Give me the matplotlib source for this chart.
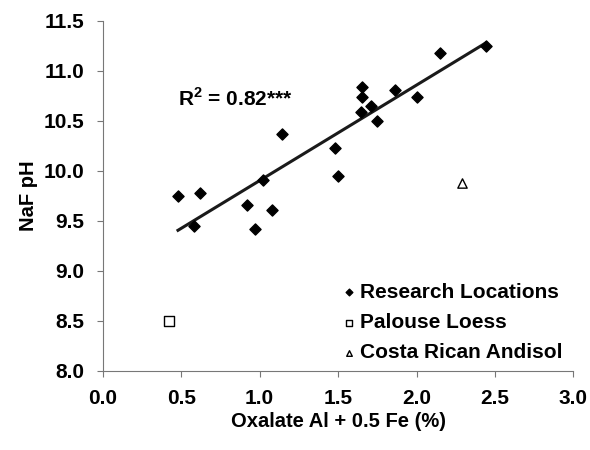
import matplotlib.pyplot as plt
import numpy as np

plt.rcParams['font.family'] = ['Liberation Sans', 'DejaVu Sans']
plt.rcParams['font.weight'] = 'bold'
plt.rcParams['mathtext.fontset'] = 'custom'
plt.rcParams['mathtext.rm'] = 'Liberation Sans:bold'
plt.rcParams['mathtext.bf'] = 'Liberation Sans:bold'

# Datos
research_x = [0.48, 0.58, 0.62, 0.92, 0.97, 1.02, 1.08, 1.14, 1.48, 1.50,
              1.65, 1.655, 1.645, 1.71, 1.75, 1.86, 2.00, 2.15, 2.44]
research_y = [9.75, 9.45, 9.78, 9.66, 9.42, 9.91, 9.61, 10.37, 10.23, 9.95,
              10.84, 10.74, 10.59, 10.65, 10.50, 10.81, 10.74, 11.18, 11.25]
palouse_x = [0.42]
palouse_y = [8.50]
costa_x = [2.29]
costa_y = [9.88]

fig = plt.figure(figsize=(5.9, 4.5), dpi=100)
ax = fig.add_axes([0.174, 0.176, 0.798, 0.778])

# Recta de regresion sobre los puntos de investigacion
m, b = np.polyfit(research_x, research_y, 1)
xs = np.array([min(research_x), max(research_x)])
ax.plot(xs, m * xs + b, color='#1a1a1a', lw=2.2, zorder=2)

ax.scatter(research_x, research_y, marker='D', s=32, color='black',
           label='Research Locations', zorder=3)
ax.scatter(palouse_x, palouse_y, marker='s', s=55, facecolor='white',
           edgecolor='black', linewidths=1, label='Palouse Loess', zorder=3)
ax.scatter(costa_x, costa_y, marker='^', s=45, facecolor='white',
           edgecolor='black', linewidths=1, label='Costa Rican Andisol', zorder=3)

ax.text(0.48, 10.65, 'R$^{2}$ = 0.82***', fontsize=15, fontweight='bold')

ax.set_xlim(0, 3)
ax.set_ylim(8, 11.5)
ax.set_xticks(np.arange(0, 3.01, 0.5))
ax.set_yticks(np.arange(8, 11.51, 0.5))
ax.xaxis.set_major_formatter(plt.FormatStrFormatter('%.1f'))
ax.yaxis.set_major_formatter(plt.FormatStrFormatter('%.1f'))
ax.tick_params(direction='out', length=4, width=0.8, color='#777777',
               labelsize=15, pad=9)
for s in ['top', 'right']:
    ax.spines[s].set_visible(False)
for s in ['left', 'bottom']:
    ax.spines[s].set_color('#777777')
    ax.spines[s].set_linewidth(0.8)

ax.set_xlabel('Oxalate Al + 0.5 Fe (%)', fontsize=14.5, fontweight='bold', labelpad=3)
ax.set_ylabel('NaF pH', fontsize=14.5, fontweight='bold', labelpad=4)

leg = ax.legend(loc='lower right', frameon=False, fontsize=15, handletextpad=0.05,
                handlelength=1.0, labelspacing=0.54, borderaxespad=0.0,
                markerscale=0.6, bbox_to_anchor=(0.995, 0.0))
for t in leg.get_texts():
    t.set_fontweight('bold')

fig.savefig('out.png', dpi=100)
